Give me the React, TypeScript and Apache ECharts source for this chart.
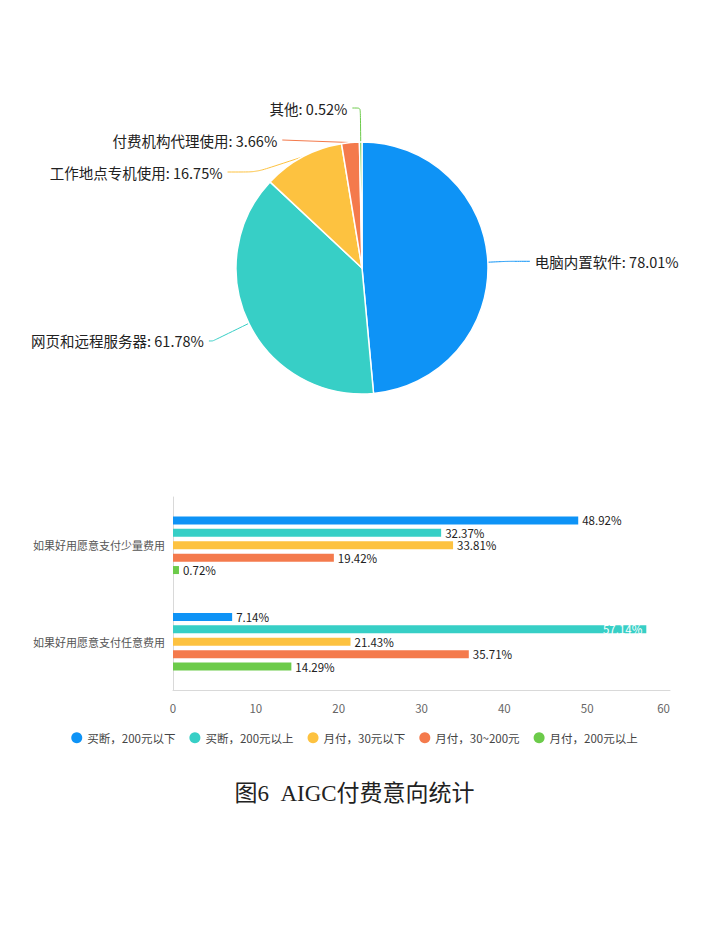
import { useEffect, useRef } from "react";
import * as echarts from "echarts";

// 饼图：使用场景
const pieNames = ["电脑内置软件", "网页和远程服务器", "工作地点专机使用", "付费机构代理使用", "其他"];
const pieValues = [78.01, 61.78, 16.75, 3.66, 0.52];
const pieColors = ["#0e93f6", "#37cfc6", "#fdc240", "#f47a4c", "#6ccb4a"];
// 每个标签引导线的两段长度
const pieLineLengths = [
  [20, 22],
  [40, 4],
  [12, 29],
  [15, 0],
  [34, 8],
];

// 条形图：付费意向
const barCategories = ["如果好用愿意支付少量费用", "如果好用愿意支付任意费用"];
const barSeriesNames = ["买断，200元以下", "买断，200元以上", "月付，30元以下", "月付，30~200元", "月付，200元以上"];
const barValues = [
  [48.92, 7.14],
  [32.37, 57.14],
  [33.81, 21.43],
  [19.42, 35.71],
  [0.72, 14.29],
];
const xTicks = { min: 0, max: 60, interval: 10 };

const caption = "图6  AIGC付费意向统计";

const App = () => {
  const chartRef = useRef(null);

  useEffect(() => {
    document.body.style.margin = "0";
    const chart = echarts.init(chartRef.current, null, { renderer: "svg" });

    const option: any = {
      animation: false,
      textStyle: { fontFamily: "'Noto Sans CJK SC', 'Noto Sans', sans-serif" },
      color: pieColors,
      legend: {
        data: barSeriesNames,
        left: "center",
        top: 727,
        icon: "circle",
        itemWidth: 11,
        itemHeight: 11,
        itemGap: 14,
        textStyle: { fontSize: 11.5, color: "#444" },
      },
      grid: {
        left: 173,
        right: 39,
        top: 497,
        bottom: 255,
      },
      xAxis: {
        type: "value",
        min: xTicks.min,
        max: xTicks.max,
        interval: xTicks.interval,
        splitLine: { show: false },
        axisLine: { show: true, lineStyle: { color: "#d9d9d9" } },
        axisTick: { show: false },
        axisLabel: { color: "#666", fontSize: 11.5, margin: 12, alignMaxLabel: "right" },
      },
      yAxis: {
        type: "category",
        inverse: true,
        data: barCategories,
        axisLine: { show: true, lineStyle: { color: "#d9d9d9" } },
        axisTick: { show: false },
        axisLabel: { color: "#555", fontSize: 11, margin: 8 },
      },
      graphic: [
        {
          type: "text",
          left: "center",
          top: 782,
          style: {
            text: caption,
            fontSize: 23,
            fontFamily: "'Liberation Serif', 'Noto Sans CJK SC', serif",
            fill: "#222",
          },
        },
      ],
      series: [
        {
          type: "pie",
          center: [362, 268],
          radius: 126,
          startAngle: 90,
          data: pieNames.map((name, i) => ({
            name,
            value: pieValues[i],
            labelLine: { length: pieLineLengths[i][0], length2: pieLineLengths[i][1] },
          })),
          itemStyle: { borderColor: "#fff", borderWidth: 1.5 },
          label: {
            formatter: "{b}: {c}%",
            fontSize: 14.5,
            lineHeight: 30,
            color: "#222",
          },
          labelLine: { smooth: 0.2 },
        },
        ...barSeriesNames.map((name, i) => ({
          name,
          type: "bar",
          barWidth: 8,
          barGap: "55%",
          itemStyle: { color: pieColors[i] },
          label: {
            show: true,
            position: "right",
            distance: 4,
            fontSize: 11.5,
            lineHeight: 11,
            color: "#222",
            formatter: "{c}%",
          },
          data: barValues[i].map((v) =>
            v > 55
              ? { value: v, label: { position: "insideRight", color: "#fff" } }
              : v
          ),
        })),
      ],
    };

    chart.setOption(option);

    return () => {
      chart.dispose();
    };
  }, []);

  return <div ref={chartRef} style={{ width: "709px", height: "945px" }} />;
};

export default App;
